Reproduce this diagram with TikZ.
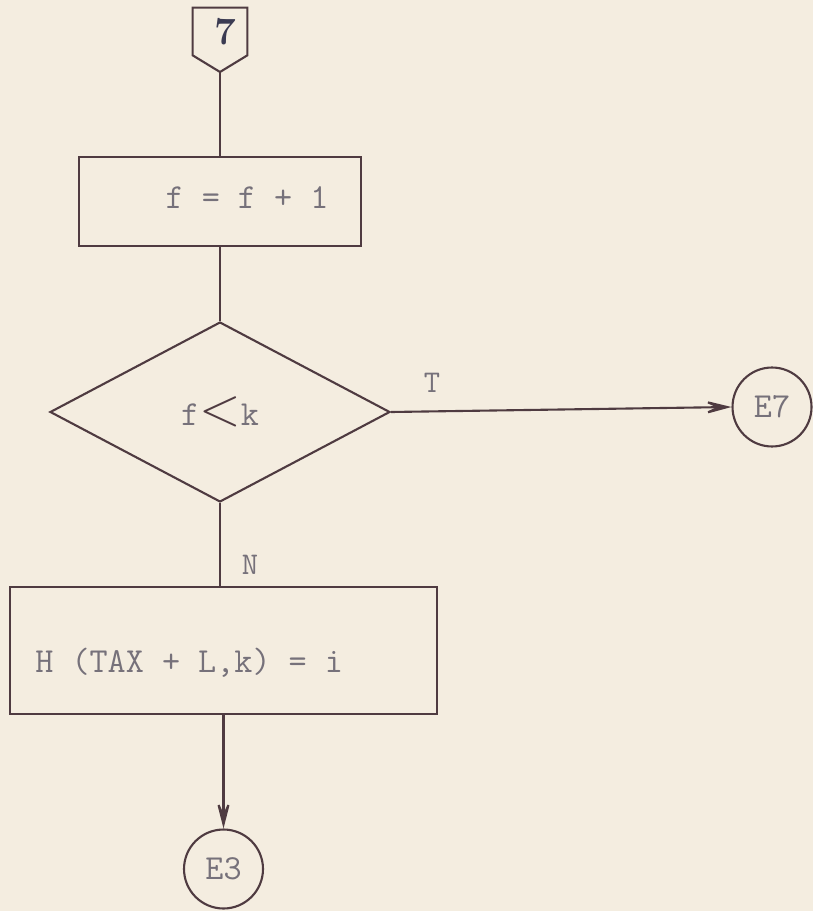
\documentclass[tikz,border=0pt]{standalone}
\usetikzlibrary{arrows.meta,positioning,shapes.geometric}
\definecolor{paper}{HTML}{F4EDE0}
\definecolor{ink}{HTML}{4F3B41}
\definecolor{type}{HTML}{76717A}
\definecolor{stamp}{HTML}{3B3B52}

\begin{document}
\begin{tikzpicture}[
  x=0.02cm, y=-0.02cm,
  >={Stealth[length=7mm,width=3.6mm,inset=4mm]},
  line/.style={draw=ink, line width=1.2pt},
  box/.style={line, rectangle, inner sep=0pt},
  test/.style={line, diamond, inner sep=0pt, minimum width=6.8cm, minimum height=3.6cm},
  txt/.style={text=type, font=\ttfamily\fontsize{20}{24}\selectfont, inner sep=0pt},
  lbl/.style={text=type, font=\ttfamily\fontsize{18}{22}\selectfont, inner sep=0pt},
  term/.style={line, circle, minimum size=1.58cm, inner sep=0pt, text=type, font=\ttfamily\fontsize{20}{24}\selectfont},
]
\fill[paper] (0,0) rectangle (813,911);
\useasboundingbox (0,0) rectangle (813,911);

% entry connector
\node[minimum width=1.08cm, minimum height=0.94cm, inner sep=0pt, text=stamp, font=\fontsize{22}{24}\selectfont\bfseries] (c7) at (220,31.5) {\hspace{0.2cm}7};
\coordinate (c7tip) at (220,72);
\draw[line] (c7.north west) -- (c7.south west) -- (c7tip) -- (c7.south east) -- (c7.north east) -- cycle;

\node[box, minimum width=5.64cm, minimum height=1.78cm] (inc) at (220,201.5) {};
\node[txt] (inctxt) at (247,198) {f = f + 1};

\node[test] (cmp) at (220,412) {};
\node[txt] (cmptxt) at (220,412) {f{\color{ink}\scalebox{1.5}{$<$}}k};

\node[box, minimum width=8.54cm, minimum height=2.54cm] (assign) at (223.5,650.5) {};
\node[txt, anchor=west] (assigntxt) at (35,663) {H (TAX + L,k) = i};

\node[term] (e7) at (772,407) {E7};
\node[term] (e3) at (223.5,869) {E3};

\node[lbl] (tlab) at (432,383) {T};
\node[lbl] (nlab) at (250,565) {N};

\draw[line] (c7tip) -- (inc.north);
\draw[line] (inc.south) -- (cmp.north);
\draw[line, ->] (cmp.east) -- (e7.west);
\draw[line] (cmp.south) -- (cmp.south |- assign.north);
\draw[line, ->] (assign.south) -- (e3.north);

\end{tikzpicture}
\end{document}
